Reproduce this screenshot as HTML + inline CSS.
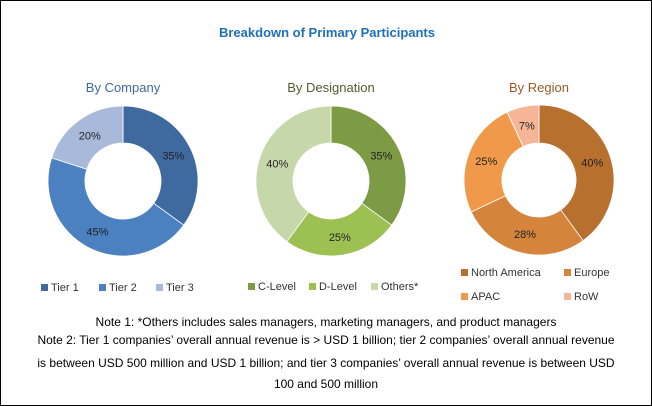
<!DOCTYPE html>
<html><head><meta charset="utf-8"><style>
body{margin:0;background:#fff}
#wrap{position:relative;width:650px;height:404px;border:1px solid #000;overflow:hidden;font-family:"Liberation Sans",sans-serif}
svg{position:absolute;left:0;top:0}
.note{position:absolute;left:0;width:650px;text-align:center;font-size:12px;color:#000}
</style></head><body>
<div id="wrap">
<svg id="s" width="650" height="404">
<text x="326" y="36" text-anchor="middle" font-family="Liberation Sans, sans-serif" font-weight="bold" font-size="13" fill="#1F6FB7">Breakdown of Primary Participants</text>
</svg>
<div class="note" style="top:314px">Note 1: *Others includes sales managers, marketing managers, and product managers</div>
<div class="note" style="top:332px">Note 2: Tier 1 companies’ overall annual revenue is &gt; USD 1 billion; tier 2 companies’ overall annual revenue</div>
<div class="note" style="top:355px">is between USD 500 million and USD 1 billion; and tier 3 companies’ overall annual revenue is between USD</div>
<div class="note" style="top:376px">100 and 500 million</div>
</div>
<script>
const companyLabels=["Tier 1","Tier 2","Tier 3"];
const companyValues=[35,45,20];
const designationLabels=["C-Level","D-Level","Others*"];
const designationValues=[35,25,40];
const regionLabels=["North America","Europe","APAC","RoW"];
const regionValues=[40,28,25,7];

const NS="http://www.w3.org/2000/svg";
const svg=document.getElementById('s');
function mk(t,a){const e=document.createElementNS(NS,t);for(const k in a)e.setAttribute(k,a[k]);svg.appendChild(e);return e;}
function donut(cfg){
  const {cx,cy,R,r,labels,values,colors,title,titleColor,name,legend}=cfg;
  const t=mk('text',{x:cx,y:91,'text-anchor':'middle','font-size':13,fill:titleColor,'font-family':'Liberation Sans, sans-serif'});
  
  
  t.textContent=title;
  const tot=values.reduce((a,b)=>a+b,0);let acc=0;
  values.forEach((v,i)=>{
    const a0=acc/tot*2*Math.PI;acc+=v;const a1=acc/tot*2*Math.PI;
    const P=(rad,a)=>[cx+rad*Math.sin(a),cy-rad*Math.cos(a)];
    const [x0,y0]=P(R,a0),[x1,y1]=P(R,a1),[x2,y2]=P(r,a1),[x3,y3]=P(r,a0);
    const lg=(a1-a0)>Math.PI?1:0;
    const p=mk('path',{d:`M${x0},${y0}A${R},${R} 0 ${lg} 1 ${x1},${y1}L${x2},${y2}A${r},${r} 0 ${lg} 0 ${x3},${y3}Z`,fill:colors[i],stroke:'#fff','stroke-width':0.8});
    
    
    const [lx,ly]=P((R+r)/2,(a0+a1)/2);
    const l=mk('text',{x:lx,y:ly+4,'text-anchor':'middle','font-size':11,fill:'#222'});
    
    
    l.textContent=v+'%';
  });
  legend.forEach((pos,i)=>{
    mk('rect',{x:pos[0],y:pos[1]-7,width:7,height:7,fill:colors[i]});
    const lt=mk('text',{x:pos[0]+10,y:pos[1],'font-size':11,fill:'#333'});
    
    
    lt.textContent=labels[i];
  });
}
donut({cx:122,cy:180,R:75,r:38,labels:companyLabels,values:companyValues,colors:['#3F6A9F','#4B80C1','#A9B9DA'],title:'By Company',titleColor:'#3F6A9F',name:'company',legend:[[40,290],[98,290],[155,290]]});
donut({cx:330,cy:180,R:75,r:38,labels:designationLabels,values:designationValues,colors:['#7C9B44','#9DC052','#C6D7AA'],title:'By Designation',titleColor:'#4F5F2A',name:'designation',legend:[[247,289],[308,289],[370,289]]});
donut({cx:538,cy:179,R:75,r:37,labels:regionLabels,values:regionValues,colors:['#B8702F','#D5843B','#F1994A','#F5B596'],title:'By Region',titleColor:'#9A5A26',name:'region',legend:[[460,275],[563,275],[460,299],[563,299]]});
</script>
</body></html>
